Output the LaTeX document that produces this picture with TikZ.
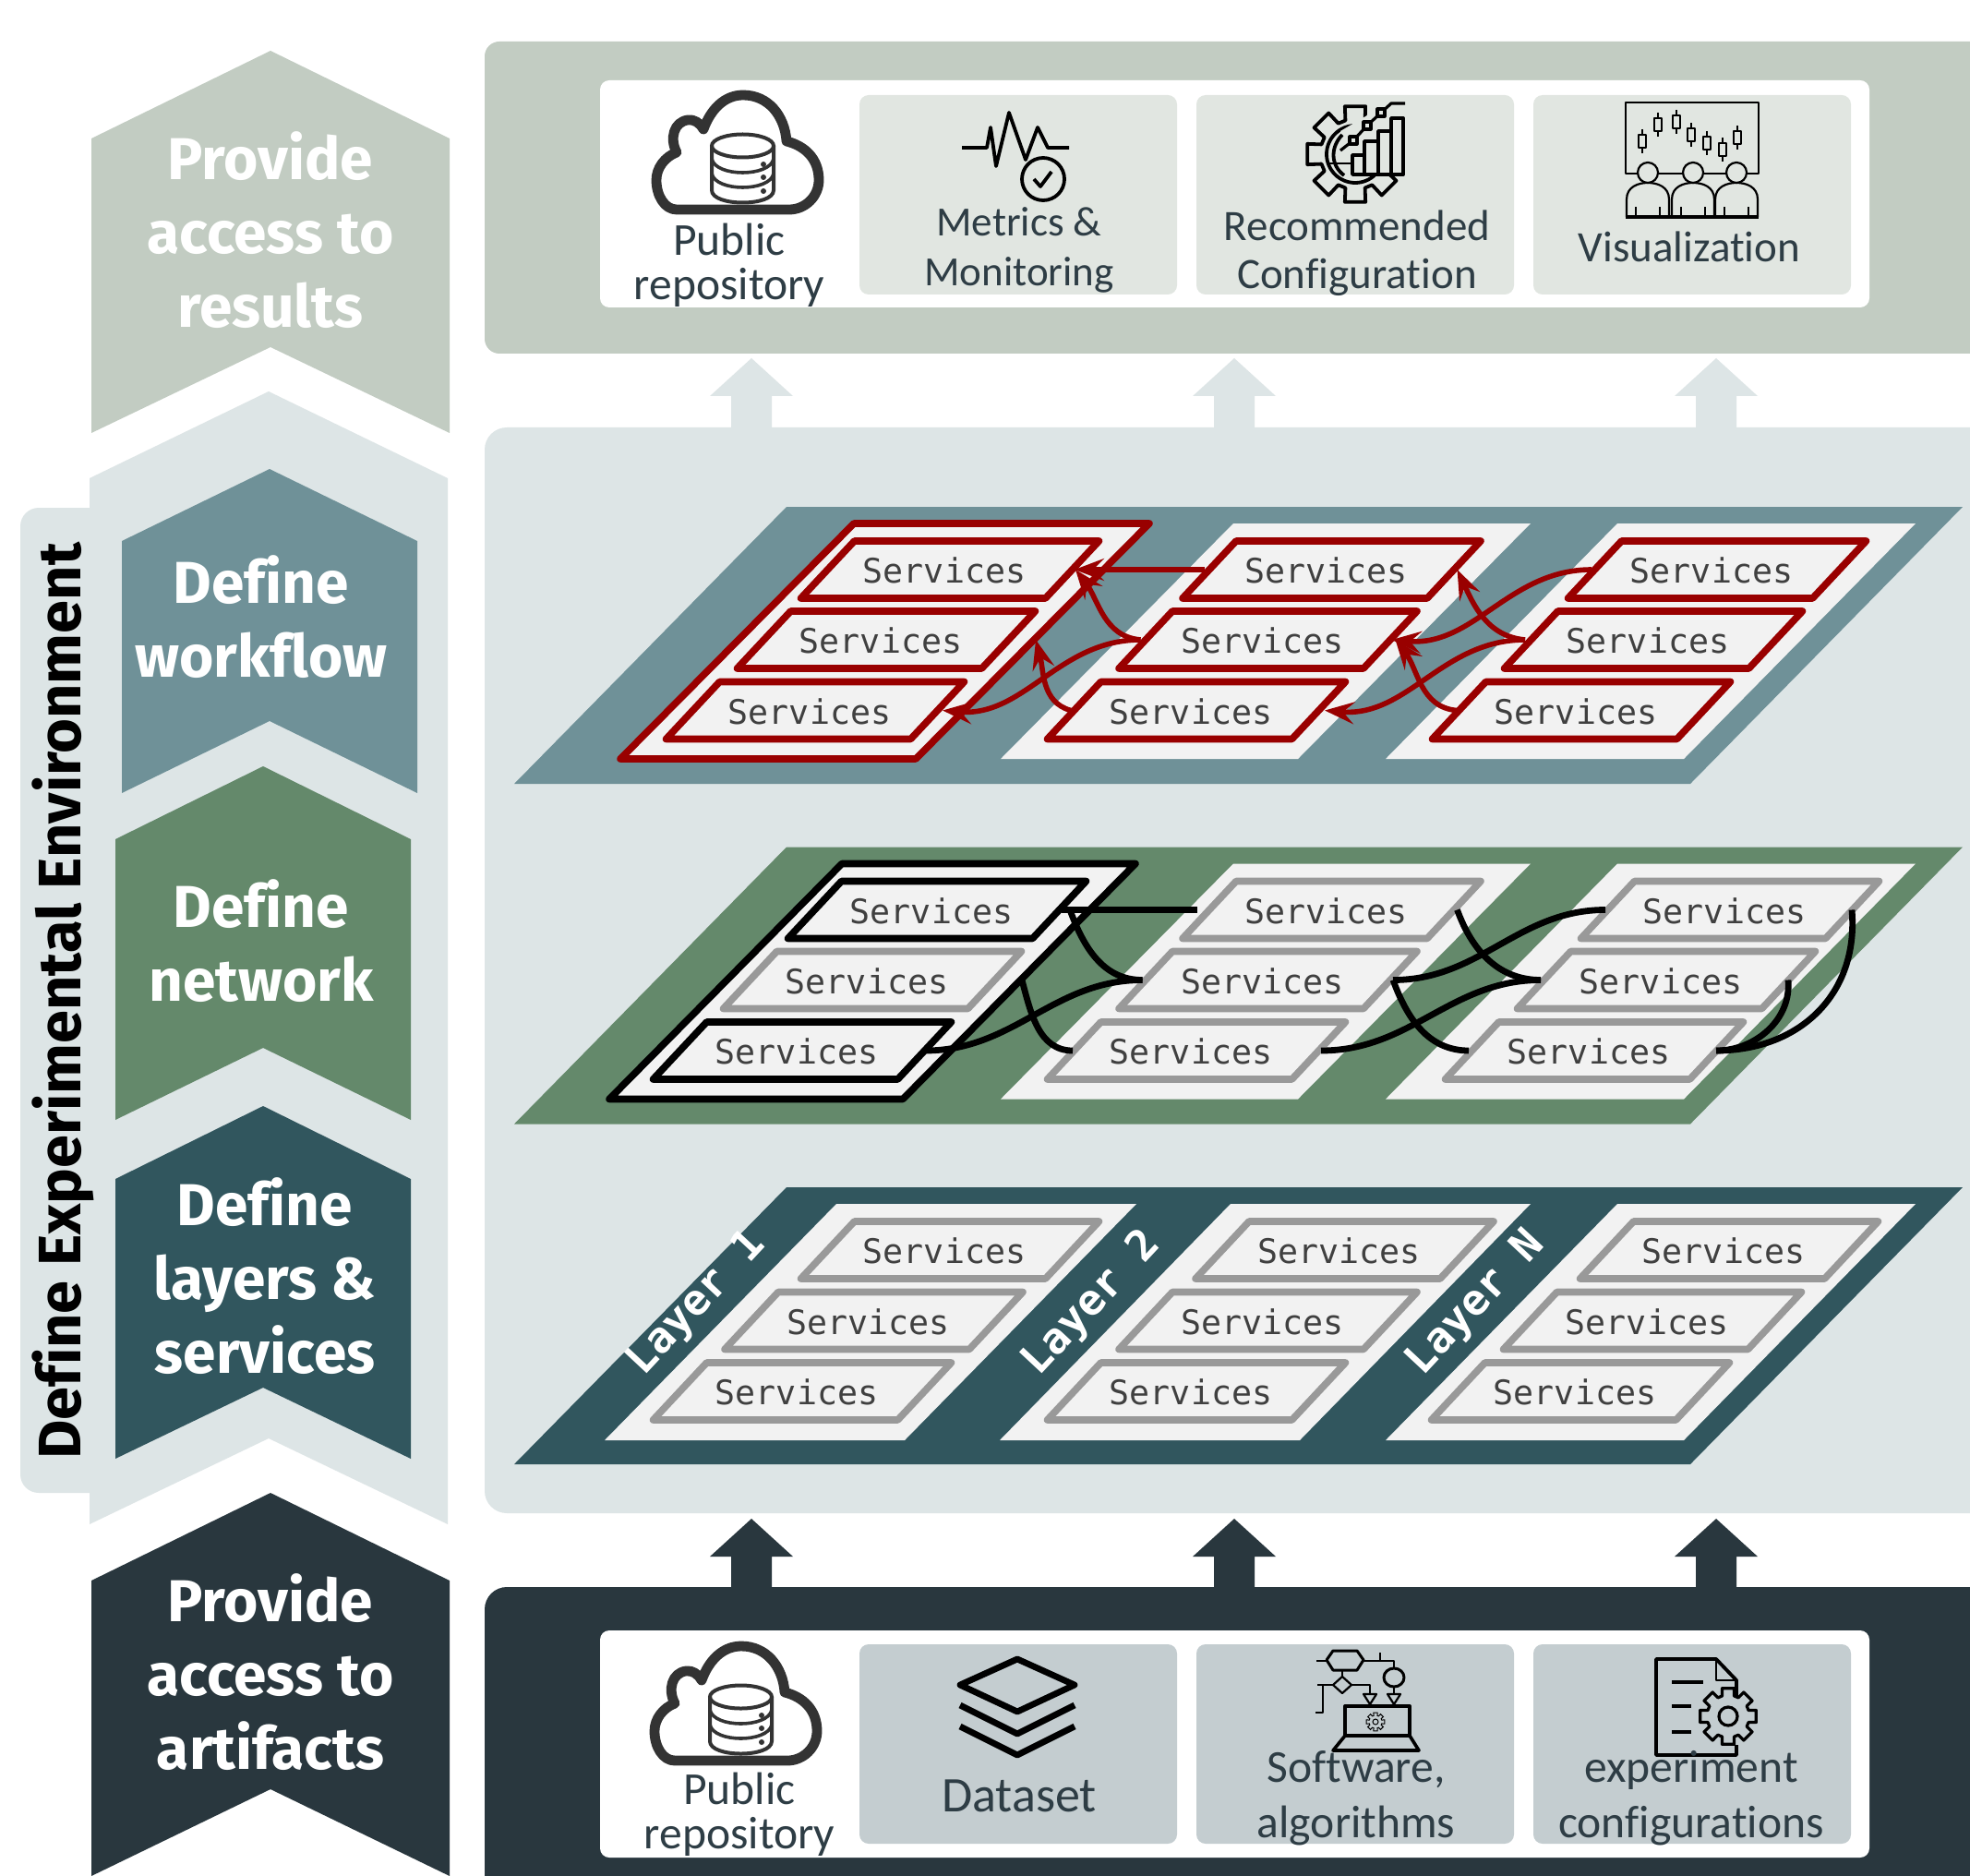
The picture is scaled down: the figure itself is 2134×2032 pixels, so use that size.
\documentclass[tikz,border=0pt]{standalone}
\usepackage{fontspec}
\setmainfont{Fira Sans}[Ligatures=CommonOff]
\newfontfamily\labfam{Carlito}[Ligatures=CommonOff]
\newfontfamily\monofam{DejaVu Sans Mono}
\usetikzlibrary{arrows.meta}
\definecolor{cgreen}{HTML}{C2CCC2}
\definecolor{clight}{HTML}{DDE5E6}
\definecolor{cflow}{HTML}{6F9198}
\definecolor{cnet}{HTML}{64896B}
\definecolor{clay}{HTML}{31565E}
\definecolor{cdark}{HTML}{29373E}
\definecolor{ctiletop}{HTML}{E1E6E1}
\definecolor{ctilebot}{HTML}{C4CDD0}
\definecolor{cwhite}{HTML}{F2F2F2}
\definecolor{cgray}{HTML}{999999}
\definecolor{cred}{HTML}{990000}
\definecolor{ctext}{HTML}{2E3D45}
\definecolor{ccloud}{HTML}{333333}
\tikzset{
  headtext/.style={text=white,align=center,font=\fontsize{32}{40}\selectfont\bfseries},
  labeltext/.style={text=ctext,align=center,font=\labfam\fontsize{23.5}{27}\selectfont},
  lowtext/.style={text=ctext,align=center,font=\labfam\fontsize{24.8}{30}\selectfont},
  svctext/.style={text=black!75,font=\monofam\fontsize{18.3}{20}\selectfont,inner sep=0pt},
  laytext/.style={text=white,font=\monofam\fontsize{23}{24}\selectfont\bfseries,inner sep=0pt,rotate=47},
  svcgray/.style={draw=cgray,fill=cwhite,line width=3.8pt,line join=round},
  svcred/.style={draw=cred,fill=cwhite,line width=3.8pt,line join=round},
  svcblack/.style={draw=black,fill=cwhite,line width=3.8pt,line join=round},
  redlink/.style={draw=cred,line width=2.8pt,-{Stealth[length=16pt,width=12pt,inset=6pt]}},
  blacklink/.style={draw=black,line width=3.4pt},
  icon/.style={draw=black,line width=1.9pt,line join=round},
  iconfine/.style={draw=black,line width=1.1pt,line join=round},
  tile/.style={rounded corners=5pt},
}
% name, cx, cy, style
\newcommand\svc[4]{%
  \draw[#4] ({#2-103.5},{#3-31}) -- ({#2+161.5},{#3-31}) -- ({#2+103.5},{#3+31}) -- ({#2-161.5},{#3+31}) -- cycle;
  \node[svctext] (#1) at ({#2-6},{#3+1}) {Services};
  \coordinate (#1-l) at ({#2-132},{#3});
  \coordinate (#1-r) at ({#2+132},{#3});
}
% x1,x2,apexY,shoulderY,bottomY,notchY,colour
\newcommand\chev[7]{%
  \fill[#7] (#1,#4) -- ({(#1+#2)/2},#3) -- (#2,#4) -- (#2,#5) -- ({(#1+#2)/2},#6) -- (#1,#5) -- cycle;
}
% parallelogram: tlx, trx, y1, y2, shear, style
\newcommand\pgram[6]{%
  \path[#6] (#1,#3) -- (#2,#3) -- ({#2-#5},#4) -- ({#1-#5},#4) -- cycle;
}
% up arrow: cx, tip, headbase, bottom, colour
\newcommand\uparr[5]{%
  \fill[#5] (#1,#2) -- ({#1+45},#3) -- ({#1+22},#3) -- ({#1+22},#4) -- ({#1-22},#4) -- ({#1-22},#3) -- ({#1-45},#3) -- cycle;
}
% cloud with database
\newcommand\cloudicon[2]{%
  \begin{scope}[shift={(#1,#2)}]
    \draw[draw=ccloud,line width=5.4pt,line join=round]
      (733,227) .. controls (720,227) and (711,212) .. (711,195)
      .. controls (711,182) and (720,170) .. (733,165)
      .. controls (725,150) and (730,132) .. (745,130)
      .. controls (752,129) and (758,133) .. (762,140)
      .. controls (770,118) and (785,103) .. (805,103)
      .. controls (832,103) and (850,125) .. (852,153)
      .. controls (872,158) and (887,172) .. (887,195)
      .. controls (887,213) and (872,227) .. (855,227) -- cycle;
    \draw[draw=ccloud,line width=2pt] (771,158) -- (771,206)
      .. controls (771,224) and (838,224) .. (838,206) -- (838,158);
    \draw[draw=ccloud,line width=2pt] (804.5,158) ellipse [x radius=33.5,y radius=12.5];
    \draw[draw=ccloud,line width=1.8pt] (771,172) .. controls (775,192) and (834,192) .. (838,172);
    \draw[draw=ccloud,line width=1.8pt] (771,188) .. controls (775,208) and (834,208) .. (838,188);
    \fill[ccloud] (827,178) circle (3) (827,192) circle (3) (827,207) circle (3);
  \end{scope}
}
% gear: cx cy inner outer n hole style
\newcommand\gearicon[7]{%
  \begin{scope}[shift={(#1,#2)}]
    \pgfmathsetmacro\gs{360/#5}
    \draw[#7] (-0.36*\gs:#3)
      \foreach \i in {1,...,#5} {
        -- ({(\i-1)*\gs-0.36*\gs}:#3) -- ({(\i-1)*\gs-0.27*\gs}:#4) -- ({(\i-1)*\gs+0.27*\gs}:#4) -- ({(\i-1)*\gs+0.36*\gs}:#3)
      } -- cycle;
    \draw[#7] (0,0) circle (#6);
  \end{scope}
}
\begin{document}
\begin{tikzpicture}[x=0.5pt,y=-0.5pt]
\useasboundingbox (0,0) rectangle (2134,2032);
\clip (0,0) rectangle (2134,2032);
\fill[white] (0,0) rectangle (2134,2032);

% ---------- left chevrons
\fill[clight,rounded corners=10pt] (22,550) rectangle (120,1617);
\chev{97}{485}{424}{518}{1651}{1558}{clight}
\chev{99}{487}{55}{150}{469}{376}{cgreen}
\chev{132}{452}{508}{586}{859}{781}{cflow}
\chev{125}{445}{830}{909}{1213}{1135}{cnet}
\chev{125}{445}{1198}{1277}{1580}{1503}{clay}
\chev{99}{487}{1617}{1712}{2032}{1938}{cdark}

\node[headtext] (hres) at (293,249) {Provide\\access to\\results};
\node[headtext] (hflow) at (283,668) {Define\\workflow};
\node[headtext] (hnet) at (283,1019) {Define\\network};
\node[headtext] (hlay) at (287,1382) {Define\\layers \&\\services};
\node[headtext] (hart) at (293,1811) {Provide\\access to\\artifacts};
\node[rotate=90,font=\fontsize{32.5}{34}\selectfont\bfseries,inner sep=0pt] (hexp) at (68,1084) {Define Experimental Environment};

% ---------- arrows between panels
\uparr{814}{388}{429}{470}{clight}
\uparr{1337}{388}{429}{470}{clight}
\uparr{1859}{388}{429}{470}{clight}
\uparr{814}{1645}{1686}{1725}{cdark}
\uparr{1337}{1645}{1686}{1725}{cdark}
\uparr{1859}{1645}{1686}{1725}{cdark}

% ---------- panels
\fill[cgreen,rounded corners=8pt] (525,45) rectangle (2170,383);
\fill[clight,rounded corners=12pt] (525,463) rectangle (2170,1639);
\fill[cdark,rounded corners=12pt] (525,1719) rectangle (2170,2090);
\fill[white,rounded corners=5pt] (650,87) rectangle (2025,333);
\fill[white,rounded corners=5pt] (650,1766) rectangle (2025,2012);
\foreach \a/\b in {931/1275,1296/1640,1661/2005} {
  \fill[ctiletop,tile] (\a,103) rectangle (\b,319);
  \fill[ctilebot,tile] (\a,1781) rectangle (\b,1997);
}

% ---------- workflow layer
\pgram{852}{2126}{549}{849}{295}{fill=cflow}
\pgram{925}{1245}{567}{822}{253}{draw=cred,fill=cwhite,line width=3.8pt,line join=round}
\pgram{1336}{1658}{567}{822}{252}{fill=cwhite}
\pgram{1752}{2075}{567}{822}{251}{fill=cwhite}
\svc{w11}{1029}{617}{svcred}
\svc{w12}{960}{693}{svcred}
\svc{w13}{883}{769.5}{svcred}
\svc{w21}{1442.5}{617}{svcred}
\svc{w22}{1373.5}{693}{svcred}
\svc{w23}{1296}{769.5}{svcred}
\svc{w31}{1860}{617}{svcred}
\svc{w32}{1791}{693}{svcred}
\svc{w33}{1713}{769.5}{svcred}
\draw[redlink,line width=3pt] ([xshift=-3pt]w21-l) -- ([xshift=1.5pt]w11-r);
\draw[redlink] ([xshift=-3pt]w22-l) to[out=175,in=-52] ([xshift=2pt]w11-r);
\draw[redlink] ([xshift=-3pt]w22-l) to[out=180,in=-5] ([xshift=3pt]w13-r);
\draw[redlink] ([xshift=-2pt]w23-l) to[out=165,in=-75] ([xshift=15pt]w12-r);
\draw[redlink] ([xshift=-2pt]w31-l) to[out=180,in=-5] ([xshift=1pt]w22-r);
\draw[redlink] ([xshift=-3.5pt]w32-l) to[out=175,in=-65] ([xshift=2pt]w21-r);
\draw[redlink] ([xshift=-3.5pt]w32-l) to[out=180,in=-5] ([xshift=3.5pt]w23-r);
\draw[redlink] ([xshift=-1.5pt]w33-l) to[out=175,in=-52] ([xshift=3pt]w22-r);

% ---------- network layer
\pgram{852}{2126}{917.5}{1217.5}{295}{fill=cnet}
\pgram{912}{1230}{935.5}{1190.5}{252}{draw=black,fill=cwhite,line width=3.8pt,line join=round}
\pgram{1336}{1658}{935.5}{1190.5}{252}{fill=cwhite}
\pgram{1752}{2075}{935.5}{1190.5}{251}{fill=cwhite}
\svc{n11}{1015}{985.5}{svcblack}
\svc{n12}{945}{1061.5}{svcgray}
\svc{n13}{869}{1138}{svcblack}
\svc{n21}{1442.5}{985.5}{svcgray}
\svc{n22}{1373.5}{1061.5}{svcgray}
\svc{n23}{1296}{1138}{svcgray}
\svc{n31}{1874}{985.5}{svcgray}
\svc{n32}{1805}{1061.5}{svcgray}
\svc{n33}{1727}{1138}{svcgray}
\draw[blacklink] ([xshift=-7pt]n21-l) -- ([xshift=1.5pt]n11-r);
\draw[blacklink] ([xshift=-2pt]n22-l) to[out=180,in=-70] ([xshift=6pt]n11-r);
\draw[blacklink] ([xshift=-2pt]n22-l) to[out=180,in=0] ([xshift=0.5pt]n13-r);
\draw[blacklink] ([xshift=-1pt]n23-l) to[out=180,in=-75] ([xshift=15pt]n12-r);
\draw[blacklink] ([xshift=-1.5pt]n31-l) to[out=180,in=0] ([xshift=1.75pt]n22-r);
\draw[blacklink] ([xshift=-2pt]n32-l) to[out=180,in=-70] ([xshift=2pt]n21-r);
\draw[blacklink] ([xshift=-2pt]n32-l) to[out=180,in=0] ([xshift=1.5pt]n23-r);
\draw[blacklink] ([xshift=-2pt]n33-l) to[out=180,in=-70] ([xshift=1.75pt]n22-r);
\draw[blacklink] (n31-r) to[out=-85,in=0,looseness=1.1] (n33-r);
\draw[blacklink] (n32-r) to[out=-85,in=0] (n33-r);

% ---------- layers & services
\pgram{852}{2126}{1286}{1586}{295}{fill=clay}
\pgram{906}{1231}{1304}{1560}{251}{fill=cwhite}
\pgram{1333}{1658}{1304}{1560}{250}{fill=cwhite}
\pgram{1752}{2075}{1304}{1560}{251}{fill=cwhite}
\svc{s11}{1029}{1354}{svcgray}
\svc{s12}{946.5}{1430.5}{svcgray}
\svc{s13}{869}{1507}{svcgray}
\svc{s21}{1456.5}{1354}{svcgray}
\svc{s22}{1373.5}{1430.5}{svcgray}
\svc{s23}{1296}{1507}{svcgray}
\svc{s31}{1873}{1354}{svcgray}
\svc{s32}{1790}{1430.5}{svcgray}
\svc{s33}{1712}{1507}{svcgray}
\node[laytext] (l1) at (755,1412) {Layer 1};
\node[laytext] (l2) at (1183,1412) {Layer 2};
\node[laytext] (l3) at (1599,1412) {Layer N};

% ---------- top icons and labels
\cloudicon{0}{0}
\node[lowtext,font=\labfam\fontsize{24.8}{24}\selectfont] (tpub) at (790,287) {Public\\repository};
\draw[icon] (1042,160) -- (1069,160) -- (1073,138) -- (1079,180) -- (1093,122) -- (1111,173) -- (1124,138) -- (1135,160) -- (1158,160);
\draw[icon,fill=ctiletop] (1130,194) circle (23);
\draw[icon] (1120,194) -- (1127,202) -- (1139,186);
\node[labeltext,font=\labfam\fontsize{22.5}{27}\selectfont] (tmet) at (1104,271) {Metrics \&\\Monitoring};
% gear + chart
\gearicon{1468}{167}{38}{53}{8}{31}{icon}
\fill[ctiletop] (1481,108) -- (1535,108) -- (1535,189) -- (1465,189) -- (1465,165) -- (1452,142) -- (1481,125) -- cycle;
\draw[icon] (1454,146) .. controls (1442,158) and (1440,178) .. (1456,190);
\draw[icon,line width=1.2pt] (1440,177) -- (1465,177);
\draw[icon,fill=ctiletop] (1465,168) rectangle (1478,189);
\draw[icon,fill=ctiletop] (1478,153) rectangle (1493,189);
\draw[icon,fill=ctiletop] (1493,142) rectangle (1507,189);
\draw[icon,fill=ctiletop] (1507,128) rectangle (1520,189);
\draw[icon,line width=1.6pt] (1452,163) -- (1466,152) -- (1481,136) -- (1496,122) -- (1507,112) -- (1522,112);
\foreach \p/\q in {1466/152,1481/136,1496/122} \draw[icon,line width=1.6pt,fill=ctiletop] ({\p-4},{\q-4}) rectangle ({\p+4},{\q+4});
\node[labeltext,font=\labfam\fontsize{23.5}{26}\selectfont] (trec) at (1470,274) {Recommended\\Configuration};
% visualisation
\draw[iconfine,line width=1.4pt] (1761,188) -- (1761,111) -- (1905,111) -- (1905,188) -- cycle;
\foreach \cx/\cy in {1779/153,1796/135,1816/132,1832/146,1849/155,1866/162,1882/149} {
  \draw[iconfine] (\cx,{\cy-13}) -- (\cx,{\cy+13});
  \draw[iconfine,fill=ctiletop] ({\cx-4},{\cy-7}) rectangle ({\cx+4},{\cy+7});
}
\foreach \cx in {1785,1834,1881} {
  \draw[iconfine,fill=ctiletop] ({\cx-23},235) -- ({\cx-23},216) .. controls ({\cx-23},202) and ({\cx-10},198) .. (\cx,198) .. controls ({\cx+10},198) and ({\cx+23},202) .. ({\cx+23},216) -- ({\cx+23},235);
  \draw[iconfine,fill=ctiletop] (\cx,187) circle (11);
  \draw[iconfine,line width=0.8pt] ({\cx-13},235) -- ({\cx-13},224) ({\cx+13},235) -- ({\cx+13},224);
}
\draw[iconfine,line width=1.6pt] (1761,235) -- (1905,235);
\node[labeltext] (tvis) at (1830,267) {Visualization};

% ---------- bottom icons and labels
\cloudicon{-2}{1680}
\node[lowtext,font=\labfam\fontsize{24.8}{24}\selectfont] (bpub) at (801,1965) {Public\\repository};
\draw[icon,line width=3.4pt] (1102,1797) -- (1164,1825) -- (1102,1854) -- (1040,1825) -- cycle;
\draw[icon,line width=3.4pt] (1040,1847) -- (1102,1878) -- (1164,1847);
\draw[icon,line width=3.4pt] (1040,1870) -- (1102,1901) -- (1164,1870);
\node[labeltext,font=\labfam\fontsize{27}{30}\selectfont] (bdat) at (1104,1945) {Dataset};
% software
\draw[iconfine] (1426,1799) -- (1437,1799);
\draw[icon,line width=1.5pt] (1444,1788) -- (1470,1788) -- (1477,1798) -- (1470,1809) -- (1444,1809) -- (1437,1798) -- cycle;
\draw[iconfine] (1477,1799) -- (1510,1799) -- (1510,1807) (1495,1790) -- (1495,1799);
\draw[icon,line width=1.5pt] (1510,1817) ellipse [x radius=11,y radius=10];
\draw[iconfine] (1510,1827) -- (1510,1835);
\draw[iconfine] (1503,1835) -- (1517,1835) -- (1510,1846) -- cycle;
\draw[iconfine] (1454,1809) -- (1454,1816);
\draw[iconfine] (1454,1816) -- (1464,1825) -- (1454,1834) -- (1444,1825) -- cycle;
\draw[iconfine] (1464,1825) -- (1484,1825) -- (1484,1835);
\draw[iconfine] (1477,1835) -- (1491,1835) -- (1484,1846) -- cycle;
\draw[iconfine] (1427,1825) -- (1444,1825) (1433,1825) -- (1433,1855) -- (1425,1855);
\draw[icon,line width=1.7pt] (1457,1880) -- (1457,1848) -- (1527,1848) -- (1527,1880);
\draw[icon,line width=1.8pt] (1457,1880) -- (1527,1880) -- (1537,1896) -- (1444,1896) -- cycle;
\gearicon{1490}{1865}{7}{10}{8}{3}{draw=black,line width=0.5pt}
\node[lowtext] (bsof) at (1469,1948) {Software,\\algorithms};
% document
\draw[icon,line width=1.9pt] (1881,1875) -- (1881,1820) -- (1859,1797) -- (1794,1797) -- (1794,1901) -- (1881,1901) -- (1881,1890);
\draw[iconfine] (1859,1797) -- (1859,1820) -- (1881,1820);
\draw[icon] (1811,1822) -- (1845,1822);
\draw[icon] (1811,1848) -- (1832,1848);
\draw[icon] (1811,1876) -- (1832,1876);
\gearicon{1872}{1859}{23}{31}{8}{10}{draw=black,line width=1.6pt,line join=round,fill=ctilebot}
\node[lowtext] (bexp) at (1832,1948) {experiment\\configurations};
\end{tikzpicture}
\end{document}
